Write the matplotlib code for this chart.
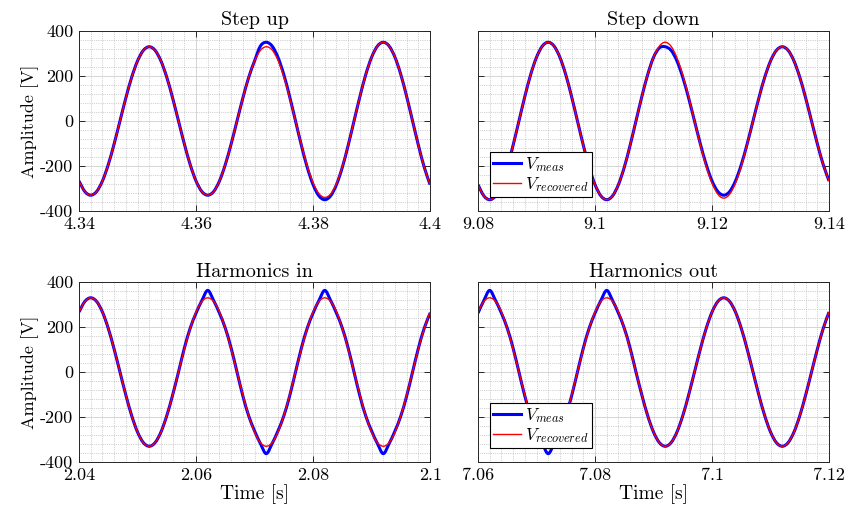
import numpy as np
import matplotlib
matplotlib.use('Agg')
import matplotlib.pyplot as plt
from matplotlib.ticker import MultipleLocator
from matplotlib.path import Path
from matplotlib.patches import PathPatch
from matplotlib.lines import Line2D

plt.rcParams['font.family'] = 'serif'
plt.rcParams['font.serif'] = ['cmr10']
plt.rcParams['mathtext.fontset'] = 'cm'
plt.rcParams['axes.unicode_minus'] = False
plt.rcParams['axes.formatter.use_mathtext'] = True

# --- data (voltages read every 1 ms from the reference) ---
titles = ['Step up', 'Step down', 'Harmonics in', 'Harmonics out']
t_start = [4.34, 9.08, 2.04, 7.06]
dt = 0.001

xtick_labels = [['4.34', '4.36', '4.38', '4.4'],
                ['9.08', '9.1', '9.12', '9.14'],
                ['2.04', '2.06', '2.08', '2.1'],
                ['7.06', '7.08', '7.1', '7.12']]
ytick_labels = ['-400', '-200', '0', '200', '400']

step_up_meas = [
    -267, -314, -330, -314, -267, -194, -102, 0, 102, 194,
    267, 314, 330, 314, 267, 194, 102, 0, -102, -194,
    -267, -314, -330, -314, -267, -194, -102, 0, 102, 194,
    267, 333, 350, 333, 283, 206, 108, 0, -108, -206,
    -283, -333, -350, -333, -283, -206, -108, 0, 108, 206,
    283, 333, 350, 333, 283, 206, 108, 0, -108, -206,
    -283]
step_up_rec = [
    -267, -314, -330, -314, -267, -194, -102, 0, 102, 194,
    267, 314, 330, 314, 267, 194, 102, 0, -102, -194,
    -267, -314, -330, -314, -267, -194, -102, 0, 102, 194,
    267, 314, 330, 316, 270, 197, 104, 0, -105, -200,
    -275, -323, -340, -325, -278, -203, -107, 0, 108, 206,
    283, 333, 350, 333, 283, 206, 108, 0, -108, -206,
    -283]

step_down_meas = [
    -283, -333, -350, -333, -283, -206, -108, 0, 108, 206,
    283, 333, 350, 333, 283, 206, 108, 0, -108, -206,
    -283, -333, -350, -333, -283, -206, -108, 0, 108, 206,
    283, 325, 330, 314, 267, 194, 102, 0, -102, -194,
    -267, -314, -330, -314, -267, -194, -102, 0, 102, 194,
    267, 314, 330, 314, 267, 194, 102, 0, -102, -194,
    -267]
step_down_rec = [
    -283, -333, -350, -333, -283, -206, -108, 0, 108, 206,
    283, 333, 350, 333, 283, 206, 108, 0, -108, -206,
    -283, -333, -350, -333, -283, -206, -108, 0, 108, 206,
    283, 333, 350, 332, 281, 204, 107, 0, -106, -202,
    -277, -326, -343, -326, -276, -200, -104, 0, 102, 194,
    267, 314, 330, 314, 267, 194, 102, 0, -102, -194,
    -267]

harm_in_meas = [
    267, 314, 330, 314, 267, 194, 102, 0, -102, -194,
    -267, -314, -330, -314, -267, -194, -102, 0, 106, 195,
    262, 318, 363, 318, 262, 195, 106, 0, -106, -195,
    -262, -318, -363, -318, -262, -195, -106, 0, 106, 195,
    262, 318, 363, 318, 262, 195, 106, 0, -106, -195,
    -262, -318, -363, -318, -262, -195, -106, 0, 106, 195,
    262]
harm_in_rec = [
    267, 314, 330, 314, 267, 194, 102, 0, -102, -194,
    -267, -314, -330, -314, -267, -194, -102, 0, 102, 194,
    267, 314, 330, 314, 267, 194, 102, 0, -102, -194,
    -267, -314, -330, -314, -267, -194, -102, 0, 102, 194,
    267, 314, 330, 314, 267, 194, 102, 0, -102, -194,
    -267, -314, -330, -314, -267, -194, -102, 0, 102, 194,
    267]

harm_out_meas = [
    262, 318, 363, 318, 262, 195, 106, 0, -106, -195,
    -262, -318, -363, -318, -262, -195, -106, 0, 106, 195,
    262, 318, 363, 318, 262, 195, 106, 0, -102, -194,
    -267, -314, -330, -314, -267, -194, -102, 0, 102, 194,
    267, 314, 330, 314, 267, 194, 102, 0, -102, -194,
    -267, -314, -330, -314, -267, -194, -102, 0, 102, 194,
    267]
harm_out_rec = [
    267, 314, 330, 314, 267, 194, 102, 0, -102, -194,
    -267, -314, -330, -314, -267, -194, -102, 0, 102, 194,
    267, 314, 330, 314, 267, 194, 102, 0, -102, -194,
    -267, -314, -330, -314, -267, -194, -102, 0, 102, 194,
    267, 314, 330, 314, 267, 194, 102, 0, -102, -194,
    -267, -314, -330, -314, -267, -194, -102, 0, 102, 194,
    267]

meas = [step_up_meas, step_down_meas, harm_in_meas, harm_out_meas]
rec = [step_up_rec, step_down_rec, harm_in_rec, harm_out_rec]

BLUE = (0, 0, 1)
RED = (1, 0, 0)


def smooth_path(x, y):
    # cubic bezier through every sample (catmull-rom tangents)
    n = len(x)
    verts = [(x[0], y[0])]
    codes = [Path.MOVETO]
    for i in range(n - 1):
        a = max(i - 1, 0)
        b = min(i + 2, n - 1)
        c1 = (x[i] + (x[i + 1] - x[a]) / 6, y[i] + (y[i + 1] - y[a]) / 6)
        c2 = (x[i + 1] - (x[b] - x[i]) / 6, y[i + 1] - (y[b] - y[i]) / 6)
        verts += [c1, c2, (x[i + 1], y[i + 1])]
        codes += [Path.CURVE4] * 3
    return Path(verts, codes)


positions = [[0.0934, 0.592, 0.415, 0.348],
             [0.565, 0.592, 0.415, 0.348],
             [0.0934, 0.1064, 0.415, 0.348],
             [0.565, 0.1064, 0.415, 0.348]]

fig = plt.figure(figsize=(8.46, 5.17), dpi=100)

for k in range(4):
    ax = fig.add_axes(positions[k])
    t = t_start[k] + dt * np.arange(len(meas[k]))
    ax.add_patch(PathPatch(smooth_path(t, meas[k]), fill=False,
                           edgecolor=BLUE, lw=2.2, joinstyle='round'))
    ax.add_patch(PathPatch(smooth_path(t, rec[k]), fill=False,
                           edgecolor=RED, lw=1.0, joinstyle='round'))

    xt = [float(s) for s in xtick_labels[k]]
    ax.set_xlim(xt[0], xt[-1])
    ax.set_ylim(-400, 400)
    ax.set_xticks(xt)
    ax.set_xticklabels(xtick_labels[k])
    ax.set_yticks([float(s) for s in ytick_labels])
    if k % 2 == 0:
        ax.set_yticklabels(ytick_labels)
        ax.set_ylabel('Amplitude [V]', fontsize=13, labelpad=1)
    else:
        ax.set_yticklabels([])
    if k >= 2:
        ax.set_xlabel('Time [s]', fontsize=14, labelpad=1)

    ax.xaxis.set_minor_locator(MultipleLocator(0.002))
    ax.yaxis.set_minor_locator(MultipleLocator(40))
    ax.grid(which='major', color='#cfcfcf', lw=0.6, ls='-')
    ax.grid(which='minor', color='#a8a8a8', lw=0.5, ls=':')
    ax.set_axisbelow(True)
    ax.tick_params(which='major', direction='in', top=True, right=True,
                   length=4, width=0.7, labelsize=13, color='#262626', pad=4)
    ax.tick_params(which='minor', length=0)
    for sp in ax.spines.values():
        sp.set_color('#262626')
        sp.set_linewidth(0.7)
    ax.set_title(titles[k], fontsize=14.5, pad=4)

    if k % 2 == 1:
        handles = [Line2D([], [], color=BLUE, lw=2.2),
                   Line2D([], [], color=RED, lw=1.0)]
        leg = ax.legend(handles, ['$V_{meas}$', '$V_{recovered}$'],
                        loc='lower left', bbox_to_anchor=(0.034, 0.075),
                        borderaxespad=0, fancybox=False, framealpha=1,
                        edgecolor='black', fontsize=12.5, handlelength=1.6,
                        handletextpad=0.2, labelspacing=0.05, borderpad=0.2)
        leg.get_frame().set_linewidth(0.8)

fig.savefig('out.png', dpi=100)
